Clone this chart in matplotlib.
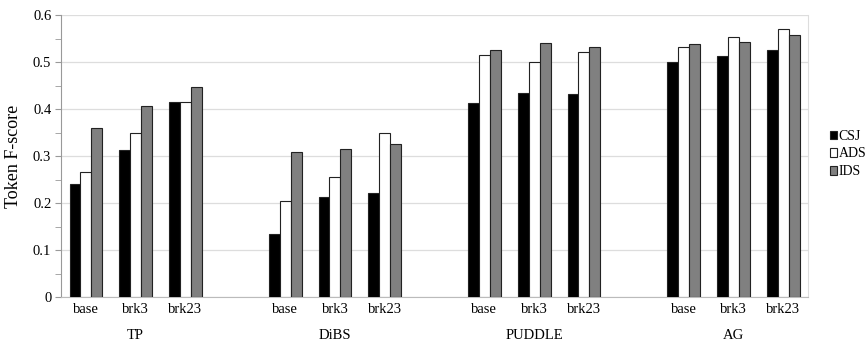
import numpy as np
import matplotlib.pyplot as plt
from matplotlib.transforms import blended_transform_factory
from matplotlib.patches import Patch

plt.rcParams['font.family'] = ['Liberation Serif', 'DejaVu Serif']

groups = ['TP', 'DiBS', 'PUDDLE', 'AG']
conditions = ['base', 'brk3', 'brk23']
series = ['CSJ', 'ADS', 'IDS']

csj = [0.241, 0.312, 0.415, 0.133, 0.213, 0.221, 0.413, 0.435, 0.433, 0.500, 0.513, 0.525]
ads = [0.267, 0.350, 0.414, 0.205, 0.256, 0.350, 0.514, 0.499, 0.522, 0.531, 0.553, 0.570]
ids = [0.359, 0.407, 0.446, 0.308, 0.314, 0.326, 0.525, 0.540, 0.531, 0.538, 0.543, 0.558]

colors = ['black', 'white', '#808080']

# slot positions: 3 conditions per group, one empty slot between groups
pos = np.array([g * 4 + c for g in range(len(groups)) for c in range(len(conditions))], dtype=float)

fig = plt.figure(figsize=(8.67, 3.46), dpi=100)
ax = fig.add_axes([0.0704, 0.1416, 0.8616, 0.815])

w = 0.22
for i, (vals, col) in enumerate(zip([csj, ads, ids], colors)):
    ax.bar(pos + (i - 1) * w, vals, w, color=col, edgecolor='#222222', linewidth=0.8, zorder=3)

ax.set_xlim(-0.5, pos[-1] + 0.5)
ax.set_ylim(0, 0.6)
ax.set_yticks(np.arange(0, 0.61, 0.1))
ax.set_yticklabels(['0', '0.1', '0.2', '0.3', '0.4', '0.5', '0.6'], fontsize=10.5)
ax.set_yticks(np.arange(0.05, 0.6, 0.1), minor=True)
ax.tick_params(axis='y', which='both', length=4, color='#999999', pad=3)
ax.grid(axis='y', color='#dddddd', linewidth=0.9, zorder=0)

ax.set_xticks(pos)
ax.set_xticklabels(conditions * len(groups), fontsize=10.5)
ax.tick_params(axis='x', length=0, pad=4)

ax.spines['top'].set_visible(False)
ax.spines['right'].set_color('#dddddd')
ax.spines['left'].set_color('#999999')
ax.spines['bottom'].set_color('#bbbbbb')

trans = blended_transform_factory(ax.transData, fig.transFigure)
for g, name in enumerate(groups):
    ax.text(g * 4 + 1, 0.03, name, transform=trans, ha='center', va='center', fontsize=10.5)

ax.set_ylabel('Token F-score', fontsize=13, labelpad=8)

handles = [Patch(facecolor=c, edgecolor='#222222', linewidth=0.8) for c in colors]
fig.legend(handles, series, loc='center left', bbox_to_anchor=(0.951, 0.555),
           frameon=False, fontsize=10, handlelength=0.5, handleheight=0.55,
           handletextpad=0.1, labelspacing=0.35, borderaxespad=0)

fig.savefig('out.png', dpi=100)
